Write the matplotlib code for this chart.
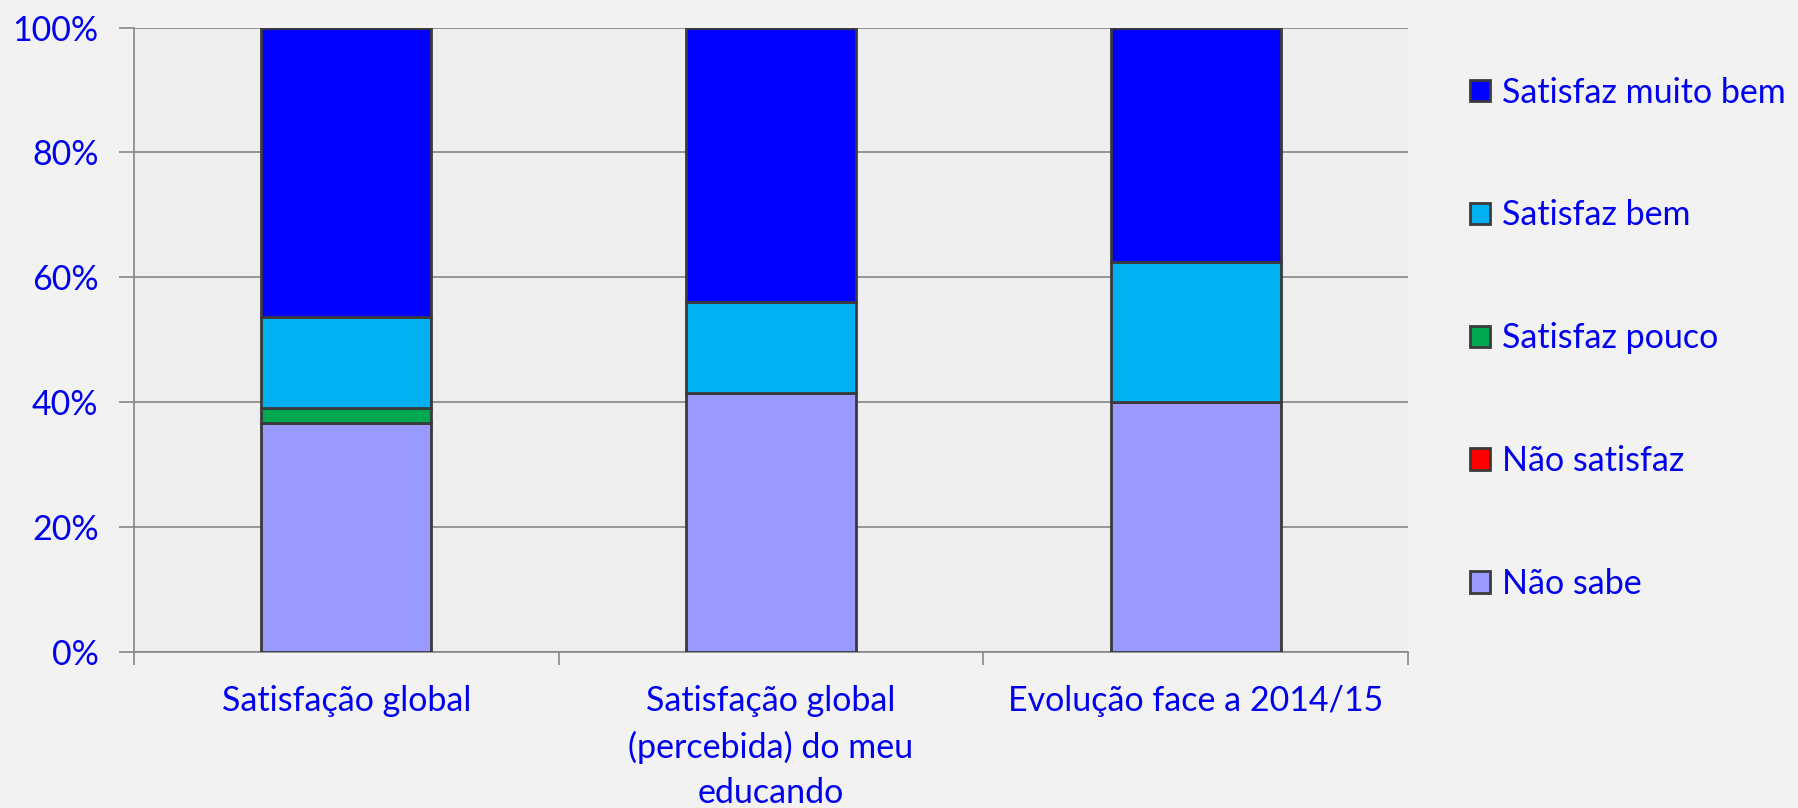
import matplotlib
matplotlib.use("Agg")
import matplotlib.pyplot as plt
import numpy as np

categories = ["Satisfação global", "Satisfação global\n(percebida) do meu\neducando", "Evolução face a 2014/15"]
series_names = ["Não sabe", "Não satisfaz", "Satisfaz pouco", "Satisfaz bem", "Satisfaz muito bem"]
nao_sabe = [36.6, 41.5, 40.0]
nao_satisfaz = [0.0, 0.0, 0.0]
satisfaz_pouco = [2.4, 0.0, 0.0]
satisfaz_bem = [14.6, 14.6, 22.5]
satisfaz_muito_bem = [46.3, 43.9, 37.5]
colors = ["#9999FF", "#FF0000", "#00A84F", "#00B0F0", "#0000FF"]
yticks = [0, 20, 40, 60, 80, 100]
ytick_labels = ["0%", "20%", "40%", "60%", "80%", "100%"]

plt.rcParams['font.family'] = ['Lato', 'DejaVu Sans']
txt = "#0000EE"
fs = 24.5

fig = plt.figure(figsize=(17.98, 8.08), dpi=100, facecolor="#F2F2F2")
ax = fig.add_axes([134/1798, 1 - 652/808, (1408-134)/1798, (652-27.5)/808])
ax.set_facecolor("#EEEEEE")

x = np.arange(len(categories))
bottom = np.zeros(len(categories))
series = [nao_sabe, nao_satisfaz, satisfaz_pouco, satisfaz_bem, satisfaz_muito_bem]
handles = []
for name, vals, c in zip(series_names, series, colors):
    b = ax.bar(x, vals, 0.4, bottom=bottom, color=c, edgecolor="#3A3A3A", linewidth=2, label=name, zorder=3)
    handles.append(b)
    bottom += np.array(vals)

ax.set_xlim(-0.5, 2.5)
ax.set_ylim(0, 100)
ax.set_yticks(yticks)
ax.set_yticklabels(ytick_labels, color=txt, fontsize=fs)
ax.yaxis.grid(True, color="#868686", linewidth=1.2, zorder=0)
ax.set_axisbelow(True)
for s in ["top", "right"]:
    ax.spines[s].set_visible(False)
for s in ["left", "bottom"]:
    ax.spines[s].set_color("#868686")
    ax.spines[s].set_linewidth(1.2)
ax.tick_params(axis="y", length=11, width=1.2, color="#868686", pad=14.5)
ax.set_xticks([-0.5, 0.5, 1.5, 2.5])
ax.set_xticklabels([])
ax.tick_params(axis="x", length=9, width=1.2, color="#868686")
for xi, lab in zip(x, categories):
    ax.text(xi, -5.3, lab, ha="center", va="top", color=txt, fontsize=fs, linespacing=1.5)

leg = fig.legend(handles[::-1], series_names[::-1], loc="upper left",
                 bbox_to_anchor=(1439/1798, 1 - 46/808), frameon=False,
                 fontsize=fs, labelcolor=txt, handlelength=0.6, handleheight=0.6,
                 handletextpad=0.35, labelspacing=2.67)

fig.savefig("out.png", dpi=100, facecolor=fig.get_facecolor())
